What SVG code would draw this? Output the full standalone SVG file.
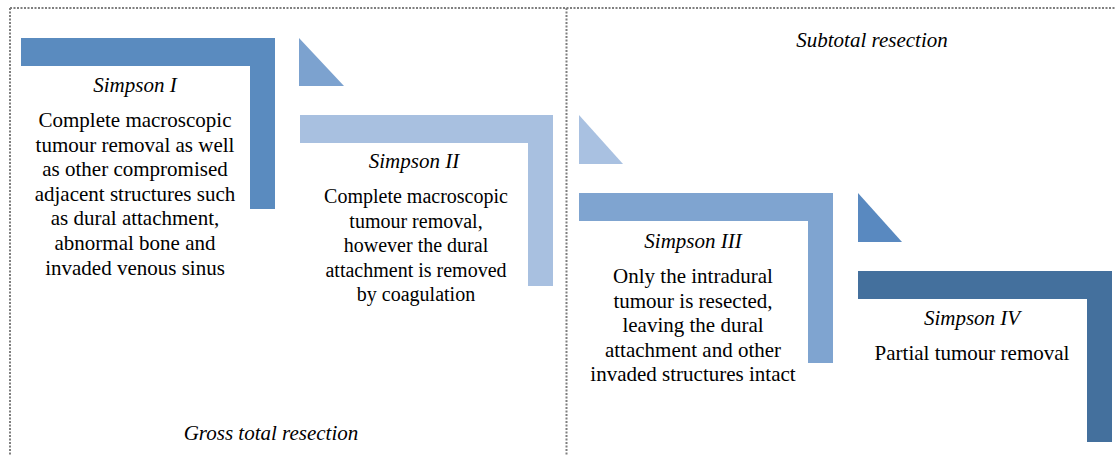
<svg xmlns="http://www.w3.org/2000/svg" width="1115" height="456" viewBox="0 0 1115 456">
<style>
.frame{fill:none;stroke:#7f7f7f;stroke-width:2;stroke-dasharray:2 1.5}
text{font-family:'Liberation Serif','Times New Roman',serif;font-size:21px;fill:#000;text-anchor:middle}
.it{font-style:italic}
</style>
<rect x="0" y="0" width="1115" height="456" fill="#fff"/>
<g id="frame">
<path class="frame" d="M10,8 H1115 M10,8 V456 M566.5,8 V456"/>
<text class="it" x="872" y="47">Subtotal resection</text>
<text class="it" x="271" y="440">Gross total resection</text>
</g>
<g id="connectors">
<path d="M299,38 V86 H344 Z" fill="#7CA2CF"/>
<path d="M579,115 V164 H623 Z" fill="#A9C1E1"/>
<path d="M858,193 V242 H902 Z" fill="#5989C0"/>
</g>
<g id="simpson1">
<path d="M21,38 H275 V209 H250 V66 H21 Z" fill="#5A8BBF"/>
<text class="it" x="135" y="92">Simpson I</text>
<text x="135" y="127"><tspan x="135">Complete macroscopic</tspan><tspan x="135" dy="24.6">tumour removal as well</tspan><tspan x="135" dy="24.6">as other compromised</tspan><tspan x="135" dy="24.6">adjacent structures such</tspan><tspan x="135" dy="24.6">as dural attachment,</tspan><tspan x="135" dy="24.6">abnormal bone  and</tspan><tspan x="135" dy="24.6">invaded venous sinus</tspan></text>
</g>
<g id="simpson2">
<path d="M300,115 H553 V286 H528 V143 H300 Z" fill="#A8C0E0"/>
<text class="it" x="414" y="168">Simpson II</text>
<text x="416" y="203" style="font-size:20px"><tspan x="416">Complete macroscopic</tspan><tspan x="416" dy="24.6">tumour removal,</tspan><tspan x="416" dy="24.6">however the dural</tspan><tspan x="416" dy="24.6">attachment is removed</tspan><tspan x="416" dy="24.6">by coagulation</tspan></text>
</g>
<g id="simpson3">
<path d="M579,193 H833 V363 H808 V221 H579 Z" fill="#7FA4D0"/>
<text class="it" x="693" y="248">Simpson III</text>
<text x="693" y="283"><tspan x="693">Only the intradural</tspan><tspan x="693" dy="24.6">tumour is resected,</tspan><tspan x="693" dy="24.6">leaving the dural</tspan><tspan x="693" dy="24.6">attachment and other</tspan><tspan x="693" dy="24.6">invaded structures intact</tspan></text>
</g>
<g id="simpson4">
<path d="M858,271 H1112 V442 H1087 V299 H858 Z" fill="#44709D"/>
<text class="it" x="972" y="325">Simpson IV</text>
<text x="972" y="360">Partial tumour removal</text>
</g>
</svg>
